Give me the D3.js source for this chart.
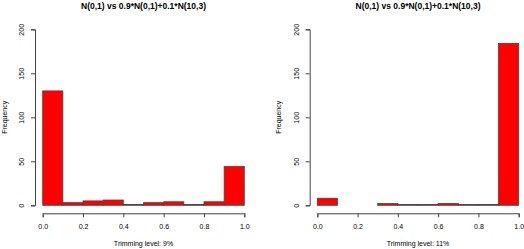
<!DOCTYPE html>
<meta charset="utf-8">
<style>
body { margin: 0; background: white; }
text { font-family: "Liberation Sans", Arial, sans-serif; fill: black; }
.title { font-weight: bold; font-size: 8.5px; }
.lab { font-size: 7px; }
</style>
<body>
<script src="https://d3js.org/d3.v7.min.js"></script>
<script>
// two histograms side by side, R style
var width = 524, height = 249;

var binEdges = [0, 0.1, 0.2, 0.3, 0.4, 0.5, 0.6, 0.7, 0.8, 0.9, 1.0];
var countsLeft = [130, 3, 5, 6, 1, 3, 4, 1, 4, 44];
var countsRight = [8, 0, 0, 2, 1, 1, 2, 1, 1, 184];
var xTicks = [0, 0.2, 0.4, 0.6, 0.8, 1.0];
var yTicks = [0, 50, 100, 150, 200];
var titleText = "N(0,1) vs 0.9*N(0,1)+0.1*N(10,3)";
var xLabels = ["Trimming level: 9%", "Trimming level: 11%"];

var panels = [
  { counts: countsLeft, x0: 42.7, x1: 244.3, yAxisX: 35, xlab: xLabels[0] },
  { counts: countsRight, x0: 317.3, x1: 518.7, yAxisX: 309.7, xlab: xLabels[1] }
];

var svg = d3.select("body").append("svg")
    .attr("width", width)
    .attr("height", height);

var y = d3.scaleLinear().domain([0, 200]).range([205.3, 29.3]);

panels.forEach(function(p) {
  var x = d3.scaleLinear().domain([0, 1]).range([p.x0, p.x1]);
  var g = svg.append("g");
  var mid = (p.x0 + p.x1) / 2;

  // bars
  g.selectAll("rect")
    .data(p.counts)
    .enter().append("rect")
      .attr("x", function(d, i) { return x(binEdges[i]); })
      .attr("width", function(d, i) { return x(binEdges[i + 1]) - x(binEdges[i]); })
      .attr("y", function(d) { return y(d); })
      .attr("height", function(d) { return y(0) - y(d); })
      .attr("fill", "#ff0000")
      .attr("stroke", "#444")
      .attr("stroke-width", 0.8);

  // x axis
  var xa = g.append("g")
      .attr("transform", "translate(0,213.3)")
      .call(d3.axisBottom(x).tickValues(xTicks).tickSize(4).tickPadding(7)
        .tickFormat(d3.format(".1f")));
  xa.select(".domain").attr("stroke", "#444");
  xa.selectAll(".tick line").attr("stroke", "#444");
  xa.selectAll("text").attr("class", "lab").attr("font-family", null).attr("font-size", null);

  // y axis
  var ya = g.append("g")
      .attr("transform", "translate(" + p.yAxisX + ",0)")
      .call(d3.axisLeft(y).tickValues(yTicks).tickSize(4).tickFormat(d3.format("d")));
  ya.select(".domain").attr("stroke", "#444");
  ya.selectAll(".tick line").attr("stroke", "#444");
  ya.selectAll("text")
      .attr("class", "lab").attr("font-family", null).attr("font-size", null)
      .attr("x", null).attr("dy", null)
      .attr("text-anchor", "middle")
      .attr("transform", "translate(-11,0) rotate(-90)")
      .attr("y", 0);

  // title and labels
  g.append("text").attr("class", "title")
      .attr("x", mid).attr("y", 8.5)
      .attr("text-anchor", "middle")
      .text(titleText);
  g.append("text").attr("class", "lab")
      .attr("x", mid).attr("y", 245.5)
      .attr("text-anchor", "middle")
      .text(p.xlab);
  g.append("text").attr("class", "lab")
      .attr("transform", "translate(" + (p.yAxisX - 28.5) + ",117.3) rotate(-90)")
      .attr("text-anchor", "middle")
      .text("Frequency");
});
</script>
</body>
